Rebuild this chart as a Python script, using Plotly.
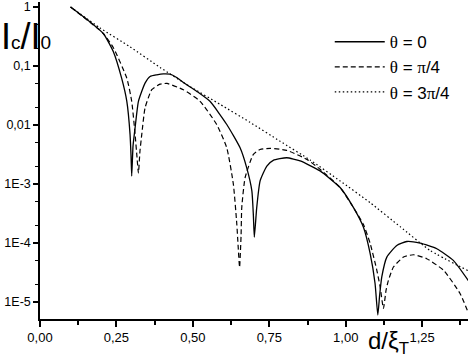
import plotly.graph_objects as go

# d / xi_T values and Ic/I0
d_theta0 = [0.100, 0.147, 0.207, 0.240, 0.267, 0.284, 0.2945, 0.2978, 0.300, 0.3043, 0.311,
            0.322, 0.3436, 0.360, 0.382, 0.4035, 0.425, 0.447, 0.469, 0.513, 0.556, 0.611, 0.6545, 0.676,
            0.693, 0.698, 0.701, 0.709, 0.720, 0.742, 0.763, 0.807, 0.851, 0.916, 0.9817,
            1.025, 1.058, 1.080, 1.096, 1.105, 1.111, 1.118, 1.1345, 1.167, 1.200, 1.2435,
            1.298, 1.352, 1.404]
ic_theta0 = [1.0, 0.653, 0.355, 0.175, 0.0621, 0.0252, 0.0070, 0.00298, 0.00137, 0.00440, 0.00893,
             0.0252, 0.0512, 0.0664, 0.0708, 0.0736, 0.0725, 0.0638, 0.0525, 0.0371, 0.0252, 0.0102, 0.00411, 0.00190,
             7.69e-4, 2.92e-4, 1.26e-4, 4.02e-4, 1.13e-3, 2.02e-3, 2.52e-3, 2.79e-3, 2.46e-3, 1.67e-3, 8.73e-4,
             4.02e-4, 1.85e-4, 6.61e-5, 2.07e-5, 6.04e-6, 1.31e-5, 2.67e-5, 5.79e-5, 9.12e-5, 1.064e-4, 9.96e-5,
             8.02e-5, 5.09e-5, 2.20e-5]

d_theta1 = [0.100, 0.207, 0.240, 0.284, 0.300, 0.311, 0.317, 0.322, 0.327, 0.333, 0.3436,
            0.3655, 0.3927, 0.4156, 0.469, 0.5236, 0.578, 0.611, 0.6325, 0.6437, 0.648, 0.6528,
            0.6577, 0.660, 0.671, 0.698, 0.720, 0.7526, 0.807, 0.873, 0.916, 0.9817, 1.025,
            1.058, 1.080, 1.1018, 1.1126, 1.1234, 1.132, 1.1397, 1.156, 1.189, 1.2215, 1.265,
            1.320, 1.374, 1.404]
ic_theta1 = [1.0, 0.355, 0.204, 0.0621, 0.0252, 0.0070, 0.00298, 0.00154, 0.00362, 0.0070, 0.0194,
             0.0396, 0.0492, 0.0506, 0.0396, 0.0252, 0.0102, 0.00411, 9.96e-4, 2.11e-4, 9.12e-5, 3.88e-5,
             1.34e-4, 4.02e-4, 1.286e-3, 3.19e-3, 3.84e-3, 4.02e-3, 3.72e-3, 2.62e-3, 1.78e-3, 8.73e-4, 4.02e-4,
             2.06e-4, 9.84e-5, 3.46e-5, 1.81e-5, 7.83e-6, 1.59e-5, 2.34e-5, 3.93e-5, 5.79e-5, 6.35e-5, 5.44e-5,
             3.46e-5, 1.40e-5, 6.04e-6]

d_theta3 = [0.100, 0.196, 0.2945, 0.3927, 0.4908, 0.589, 0.687, 0.785, 0.8835, 0.9817,
            1.080, 1.178, 1.276, 1.404]
ic_theta3 = [1.0, 0.442, 0.211, 0.0945, 0.0448, 0.0224, 0.0111, 0.00533, 0.00255, 0.00113,
             4.83e-4, 1.90e-4, 7.50e-5, 3.33e-5]

y_tickvals = [1, 0.1, 0.01, 1e-3, 1e-4, 1e-5]
y_ticktext = ["1", "0,1", "0,01", "1E-3", "1E-4", "1E-5"]
x_tickvals = [0, 0.25, 0.5, 0.75, 1.0, 1.25]
x_ticktext = ["0,00", "0,25", "0,50", "0,75", "1,00", "1,25"]

TH = '<span style="font-family:Liberation Serif">θ</span>'
PI = '<span style="font-family:Liberation Serif">π</span>'

fig = go.Figure()
fig.add_trace(go.Scatter(x=d_theta0, y=ic_theta0, mode="lines", name=TH + " = 0",
                         line=dict(color="black", width=1.3, shape="spline", smoothing=0.5)))
fig.add_trace(go.Scatter(x=d_theta1, y=ic_theta1, mode="lines", name=TH + " = " + PI + "/4",
                         line=dict(color="black", width=1.2, dash="5px,3px", shape="spline", smoothing=0.5)))
fig.add_trace(go.Scatter(x=d_theta3, y=ic_theta3, mode="lines", name=TH + " = 3" + PI + "/4",
                         line=dict(color="black", width=1.2, dash="1.5px,2.5px", shape="spline", smoothing=0.5)))

fig.update_layout(
    width=469, height=357,
    margin=dict(l=40, r=1, t=0, b=38),
    paper_bgcolor="white", plot_bgcolor="white",
    font=dict(family="Liberation Sans, Arial", color="black", size=13),
    legend=dict(x=0.677, y=0.93, xanchor="left", yanchor="top", itemwidth=50,
                font=dict(size=17), bgcolor="rgba(0,0,0,0)", tracegroupgap=0),
    showlegend=True,
)
fig.update_xaxes(range=[0, 1.40], tickvals=x_tickvals, ticktext=x_ticktext,
                 showline=True, linecolor="black", linewidth=1.5, showgrid=False, zeroline=False,
                 ticks="outside", ticklen=6, tickwidth=1.5, tickcolor="black",
                 minor=dict(ticks="outside", ticklen=4, tickwidth=1.5, tickcolor="black", dtick=0.125,
                            showgrid=False),
                 tickfont=dict(size=13), ticklabeloverflow="allow")
fig.update_yaxes(type="log", range=[-5.286, 0.084], tickvals=y_tickvals, ticktext=y_ticktext,
                 showline=True, linecolor="black", linewidth=1.5, showgrid=False, zeroline=False,
                 ticks="outside", ticklen=5, tickwidth=1.5, tickcolor="black",
                 minor=dict(ticks="outside", ticklen=3, tickwidth=1, tickcolor="black", showgrid=False),
                 tickfont=dict(size=12.5), ticklabeloverflow="allow")

fig.add_annotation(
    text='I<span style="font-size:19px">c</span>/I<span style="font-size:19px">0</span>',
    xref="paper", yref="paper", x=-0.096, y=0.89, xanchor="left", yanchor="middle",
    showarrow=False, font=dict(size=36, family="Liberation Sans Narrow, Liberation Sans"))
fig.add_annotation(text="d/ξ<sub>T</sub>", xref="paper", yref="paper",
                   x=0.815, y=-0.02, xanchor="center", yanchor="top", showarrow=False,
                   font=dict(size=24))

fig.write_html("out.html", config={"displayModeBar": False},
               post_script="document.body.style.margin='0';")
